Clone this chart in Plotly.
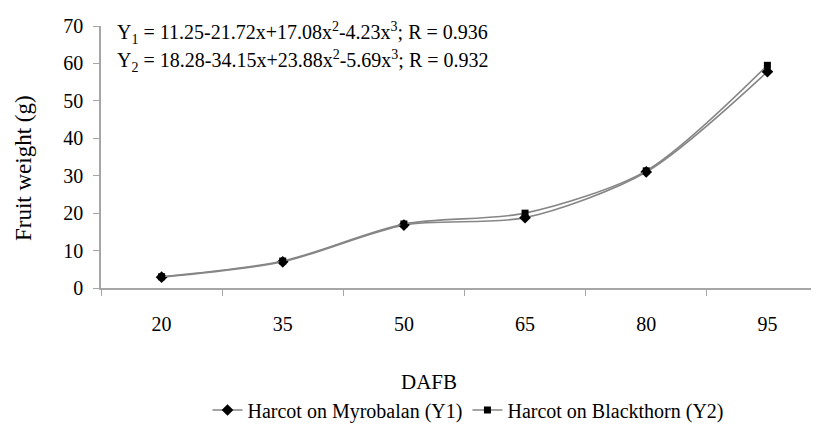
import plotly.graph_objects as go

categories = ["20", "35", "50", "65", "80", "95"]
y1_myrobalan = [2.9, 7.0, 16.8, 18.8, 31.0, 57.8]
y2_blackthorn = [3.0, 7.2, 17.1, 20.0, 31.3, 59.5]
y_ticks = [0, 10, 20, 30, 40, 50, 60, 70]

# page body has an 8px margin; size the figure so it fills the 819x433 window
OFF = 8
W, H = 819 - OFF, 433 - OFF
ml, mr, mt, mb = 101 - OFF, 0, 26 - OFF, 145
FONT = "Liberation Serif, Times New Roman, serif"
LINE_GRAY = "#868686"
AXIS_GRAY = "#a6a6a6"

fig = go.Figure()
fig.add_trace(go.Scatter(
    x=categories, y=y1_myrobalan, mode="lines+markers",
    name="Harcot on Myrobalan (Y1)",
    line=dict(color=LINE_GRAY, width=1.6, shape="spline", smoothing=0.8),
    marker=dict(symbol="diamond", size=9, color="black"),
))
fig.add_trace(go.Scatter(
    x=categories, y=y2_blackthorn, mode="lines+markers",
    name="Harcot on Blackthorn (Y2)",
    line=dict(color=LINE_GRAY, width=1.6, shape="spline", smoothing=0.8),
    marker=dict(symbol="square", size=7, color="black"),
))

pw = W - ml - mr
ph = H - mt - mb
def sx(px):  # screen x -> paper
    return (px - OFF - ml) / pw
def sy(py):  # screen y -> paper
    return (H - mb - (py - OFF)) / ph

fig.update_layout(
    width=W, height=H,
    margin=dict(l=ml, r=mr, t=mt, b=mb),
    paper_bgcolor="white", plot_bgcolor="white",
    font=dict(family=FONT, size=19, color="black"),
    showlegend=True,
    legend=dict(orientation="h", x=sx(468), xanchor="center", y=sy(410), yanchor="middle",
                font=dict(family=FONT, size=20, color="black"), itemwidth=30,
                bgcolor="rgba(0,0,0,0)"),
    xaxis=dict(
        type="category", range=[-0.5, 5.426],
        showline=True, linecolor=AXIS_GRAY, linewidth=1.5,
        ticks="outside", ticklen=6, tickcolor=AXIS_GRAY, tickson="boundaries",
        showgrid=False, zeroline=False, ticklabelstandoff=17,
        tickfont=dict(family=FONT, size=20),
    ),
    yaxis=dict(
        range=[0, 70], tickvals=y_ticks,
        showline=True, linecolor=AXIS_GRAY, linewidth=1.5,
        ticks="outside", ticklen=6, tickcolor=AXIS_GRAY,
        showgrid=False, zeroline=False, ticklabelstandoff=6,
        tickfont=dict(family=FONT, size=20),
    ),
)

ann = [
    dict(text="Y<sub>1</sub> = 11.25-21.72x+17.08x<sup>2</sup>-4.23x<sup>3</sup>; R = 0.936",
         x=sx(115), y=sy(33), xanchor="left", font=dict(size=20)),
    dict(text="Y<sub>2</sub> = 18.28-34.15x+23.88x<sup>2</sup>-5.69x<sup>3</sup>; R = 0.932",
         x=sx(115), y=sy(61), xanchor="left", font=dict(size=20)),
    dict(text="DAFB", x=sx(429), y=sy(382), xanchor="center", font=dict(size=21)),
    dict(text="Fruit weight (g)", x=sx(23), y=sy(168), xanchor="center",
         textangle=-90, font=dict(size=23)),
]
for a in ann:
    a.update(xref="paper", yref="paper", yanchor="middle", showarrow=False)
fig.update_layout(annotations=ann)

fig.write_html("out.html")
